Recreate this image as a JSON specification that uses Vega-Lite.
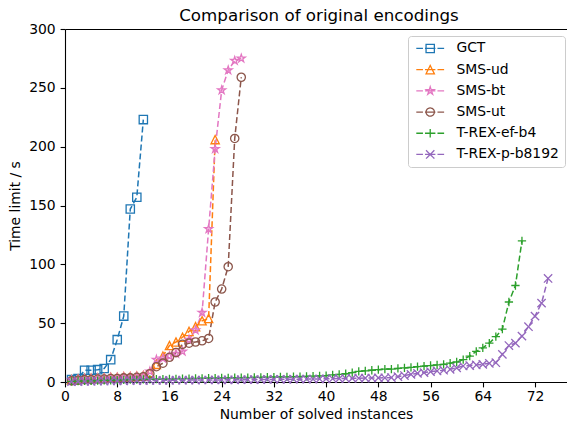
{
"$schema": "https://vega.github.io/schema/vega-lite/v6.json",
"width": 502, "height": 353,
"autosize": {"type": "none"},
"padding": {"left": 65, "top": 29, "right": 0, "bottom": 42},
"title": {"text": "Comparison of original encodings", "fontSize": 16.7, "fontWeight": "normal", "font": "DejaVu Sans", "color": "#000000", "anchor": "middle", "offset": -3, "dx": 3},
"config": {"font": "DejaVu Sans", "view": {"stroke": null}, "background": "white"},
"data": {"values": [
{"s":"GCT","x":1,"y":2},{"s":"GCT","x":2,"y":3},{"s":"GCT","x":3,"y":10},{"s":"GCT","x":4,"y":10},{"s":"GCT","x":5,"y":10.5},{"s":"GCT","x":6,"y":11.5},{"s":"GCT","x":7,"y":19},{"s":"GCT","x":8,"y":36},{"s":"GCT","x":9,"y":56},{"s":"GCT","x":10,"y":147},{"s":"GCT","x":11,"y":157},{"s":"GCT","x":12,"y":223},
{"s":"SMS-ud","x":1,"y":2},{"s":"SMS-ud","x":2,"y":2.5},{"s":"SMS-ud","x":3,"y":3},{"s":"SMS-ud","x":4,"y":3},{"s":"SMS-ud","x":5,"y":3.5},{"s":"SMS-ud","x":6,"y":3.5},{"s":"SMS-ud","x":7,"y":4},{"s":"SMS-ud","x":8,"y":4},{"s":"SMS-ud","x":9,"y":4.5},{"s":"SMS-ud","x":10,"y":4.5},{"s":"SMS-ud","x":11,"y":5},{"s":"SMS-ud","x":12,"y":5.5},{"s":"SMS-ud","x":13,"y":8},{"s":"SMS-ud","x":14,"y":15},{"s":"SMS-ud","x":15,"y":22},{"s":"SMS-ud","x":16,"y":31},{"s":"SMS-ud","x":17,"y":34},{"s":"SMS-ud","x":18,"y":38},{"s":"SMS-ud","x":19,"y":43},{"s":"SMS-ud","x":20,"y":47},{"s":"SMS-ud","x":21,"y":52},{"s":"SMS-ud","x":22,"y":54},{"s":"SMS-ud","x":23,"y":206},
{"s":"SMS-bt","x":1,"y":1.5},{"s":"SMS-bt","x":2,"y":2},{"s":"SMS-bt","x":3,"y":2.5},{"s":"SMS-bt","x":4,"y":2.5},{"s":"SMS-bt","x":5,"y":3},{"s":"SMS-bt","x":6,"y":3},{"s":"SMS-bt","x":7,"y":3.5},{"s":"SMS-bt","x":8,"y":3.5},{"s":"SMS-bt","x":9,"y":4},{"s":"SMS-bt","x":10,"y":4},{"s":"SMS-bt","x":11,"y":4.5},{"s":"SMS-bt","x":12,"y":5},{"s":"SMS-bt","x":13,"y":9},{"s":"SMS-bt","x":14,"y":19},{"s":"SMS-bt","x":15,"y":20},{"s":"SMS-bt","x":16,"y":22},{"s":"SMS-bt","x":17,"y":24},{"s":"SMS-bt","x":18,"y":26},{"s":"SMS-bt","x":19,"y":36},{"s":"SMS-bt","x":20,"y":44},{"s":"SMS-bt","x":21,"y":59},{"s":"SMS-bt","x":22,"y":130},{"s":"SMS-bt","x":23,"y":198},{"s":"SMS-bt","x":24,"y":248},{"s":"SMS-bt","x":25,"y":265},{"s":"SMS-bt","x":26,"y":273},{"s":"SMS-bt","x":27,"y":275},
{"s":"SMS-ut","x":1,"y":1},{"s":"SMS-ut","x":2,"y":1.5},{"s":"SMS-ut","x":3,"y":2},{"s":"SMS-ut","x":4,"y":2},{"s":"SMS-ut","x":5,"y":2.5},{"s":"SMS-ut","x":6,"y":2.5},{"s":"SMS-ut","x":7,"y":3},{"s":"SMS-ut","x":8,"y":3},{"s":"SMS-ut","x":9,"y":3.5},{"s":"SMS-ut","x":10,"y":3.5},{"s":"SMS-ut","x":11,"y":4},{"s":"SMS-ut","x":12,"y":4.5},{"s":"SMS-ut","x":13,"y":7},{"s":"SMS-ut","x":14,"y":13},{"s":"SMS-ut","x":15,"y":16},{"s":"SMS-ut","x":16,"y":21},{"s":"SMS-ut","x":17,"y":25},{"s":"SMS-ut","x":18,"y":32},{"s":"SMS-ut","x":19,"y":33},{"s":"SMS-ut","x":20,"y":34},{"s":"SMS-ut","x":21,"y":35},{"s":"SMS-ut","x":22,"y":37},{"s":"SMS-ut","x":23,"y":68},{"s":"SMS-ut","x":24,"y":79},{"s":"SMS-ut","x":25,"y":98},{"s":"SMS-ut","x":26,"y":207},{"s":"SMS-ut","x":27,"y":259},
{"s":"T-REX-ef-b4","x":1,"y":0.5},{"s":"T-REX-ef-b4","x":2,"y":0.7},{"s":"T-REX-ef-b4","x":3,"y":0.9},{"s":"T-REX-ef-b4","x":4,"y":1},{"s":"T-REX-ef-b4","x":5,"y":1.2},{"s":"T-REX-ef-b4","x":6,"y":1.3},{"s":"T-REX-ef-b4","x":7,"y":1.5},{"s":"T-REX-ef-b4","x":8,"y":1.6},{"s":"T-REX-ef-b4","x":9,"y":1.8},{"s":"T-REX-ef-b4","x":10,"y":2},
{"s":"T-REX-ef-b4","x":11,"y":2.1},{"s":"T-REX-ef-b4","x":12,"y":2.2},{"s":"T-REX-ef-b4","x":13,"y":2.3},{"s":"T-REX-ef-b4","x":14,"y":2.4},{"s":"T-REX-ef-b4","x":15,"y":2.5},{"s":"T-REX-ef-b4","x":16,"y":2.6},{"s":"T-REX-ef-b4","x":17,"y":2.7},{"s":"T-REX-ef-b4","x":18,"y":2.8},{"s":"T-REX-ef-b4","x":19,"y":2.9},{"s":"T-REX-ef-b4","x":20,"y":3},
{"s":"T-REX-ef-b4","x":21,"y":3.1},{"s":"T-REX-ef-b4","x":22,"y":3.2},{"s":"T-REX-ef-b4","x":23,"y":3.3},{"s":"T-REX-ef-b4","x":24,"y":3.4},{"s":"T-REX-ef-b4","x":25,"y":3.5},{"s":"T-REX-ef-b4","x":26,"y":3.6},{"s":"T-REX-ef-b4","x":27,"y":3.7},{"s":"T-REX-ef-b4","x":28,"y":3.8},{"s":"T-REX-ef-b4","x":29,"y":3.9},{"s":"T-REX-ef-b4","x":30,"y":4},
{"s":"T-REX-ef-b4","x":31,"y":4.1},{"s":"T-REX-ef-b4","x":32,"y":4.2},{"s":"T-REX-ef-b4","x":33,"y":4.3},{"s":"T-REX-ef-b4","x":34,"y":4.4},{"s":"T-REX-ef-b4","x":35,"y":4.5},{"s":"T-REX-ef-b4","x":36,"y":4.6},{"s":"T-REX-ef-b4","x":37,"y":4.8},{"s":"T-REX-ef-b4","x":38,"y":5},{"s":"T-REX-ef-b4","x":39,"y":5.2},{"s":"T-REX-ef-b4","x":40,"y":5.5},
{"s":"T-REX-ef-b4","x":41,"y":6},{"s":"T-REX-ef-b4","x":42,"y":6.5},{"s":"T-REX-ef-b4","x":43,"y":7},{"s":"T-REX-ef-b4","x":44,"y":8},{"s":"T-REX-ef-b4","x":45,"y":9},{"s":"T-REX-ef-b4","x":46,"y":9.5},{"s":"T-REX-ef-b4","x":47,"y":10},{"s":"T-REX-ef-b4","x":48,"y":10.5},{"s":"T-REX-ef-b4","x":49,"y":11},{"s":"T-REX-ef-b4","x":50,"y":11},
{"s":"T-REX-ef-b4","x":51,"y":11.5},{"s":"T-REX-ef-b4","x":52,"y":12},{"s":"T-REX-ef-b4","x":53,"y":12.5},{"s":"T-REX-ef-b4","x":54,"y":13},{"s":"T-REX-ef-b4","x":55,"y":13.5},{"s":"T-REX-ef-b4","x":56,"y":14},{"s":"T-REX-ef-b4","x":57,"y":14.5},{"s":"T-REX-ef-b4","x":58,"y":15},{"s":"T-REX-ef-b4","x":59,"y":16},{"s":"T-REX-ef-b4","x":60,"y":17},
{"s":"T-REX-ef-b4","x":61,"y":19},{"s":"T-REX-ef-b4","x":62,"y":22},{"s":"T-REX-ef-b4","x":63,"y":26},{"s":"T-REX-ef-b4","x":64,"y":29},{"s":"T-REX-ef-b4","x":65,"y":33},{"s":"T-REX-ef-b4","x":66,"y":38.5},{"s":"T-REX-ef-b4","x":67,"y":45},{"s":"T-REX-ef-b4","x":68,"y":68},{"s":"T-REX-ef-b4","x":69,"y":82},{"s":"T-REX-ef-b4","x":70,"y":120},
{"s":"T-REX-p-b8192","x":1,"y":0.3},{"s":"T-REX-p-b8192","x":2,"y":0.4},{"s":"T-REX-p-b8192","x":3,"y":0.5},{"s":"T-REX-p-b8192","x":4,"y":0.6},{"s":"T-REX-p-b8192","x":5,"y":0.7},{"s":"T-REX-p-b8192","x":6,"y":0.8},{"s":"T-REX-p-b8192","x":7,"y":0.9},{"s":"T-REX-p-b8192","x":8,"y":1},{"s":"T-REX-p-b8192","x":9,"y":1},{"s":"T-REX-p-b8192","x":10,"y":1.1},
{"s":"T-REX-p-b8192","x":11,"y":1.2},{"s":"T-REX-p-b8192","x":12,"y":1.2},{"s":"T-REX-p-b8192","x":13,"y":1.3},{"s":"T-REX-p-b8192","x":14,"y":1.3},{"s":"T-REX-p-b8192","x":15,"y":1.4},{"s":"T-REX-p-b8192","x":16,"y":1.4},{"s":"T-REX-p-b8192","x":17,"y":1.5},{"s":"T-REX-p-b8192","x":18,"y":1.5},{"s":"T-REX-p-b8192","x":19,"y":1.6},{"s":"T-REX-p-b8192","x":20,"y":1.6},
{"s":"T-REX-p-b8192","x":21,"y":1.7},{"s":"T-REX-p-b8192","x":22,"y":1.7},{"s":"T-REX-p-b8192","x":23,"y":1.8},{"s":"T-REX-p-b8192","x":24,"y":1.8},{"s":"T-REX-p-b8192","x":25,"y":1.9},{"s":"T-REX-p-b8192","x":26,"y":1.9},{"s":"T-REX-p-b8192","x":27,"y":2},{"s":"T-REX-p-b8192","x":28,"y":2},{"s":"T-REX-p-b8192","x":29,"y":2.1},{"s":"T-REX-p-b8192","x":30,"y":2.1},
{"s":"T-REX-p-b8192","x":31,"y":2.2},{"s":"T-REX-p-b8192","x":32,"y":2.2},{"s":"T-REX-p-b8192","x":33,"y":2.3},{"s":"T-REX-p-b8192","x":34,"y":2.3},{"s":"T-REX-p-b8192","x":35,"y":2.4},{"s":"T-REX-p-b8192","x":36,"y":2.4},{"s":"T-REX-p-b8192","x":37,"y":2.5},{"s":"T-REX-p-b8192","x":38,"y":2.5},{"s":"T-REX-p-b8192","x":39,"y":2.6},{"s":"T-REX-p-b8192","x":40,"y":2.7},
{"s":"T-REX-p-b8192","x":41,"y":2.8},{"s":"T-REX-p-b8192","x":42,"y":2.9},{"s":"T-REX-p-b8192","x":43,"y":3},{"s":"T-REX-p-b8192","x":44,"y":3.1},{"s":"T-REX-p-b8192","x":45,"y":3.2},{"s":"T-REX-p-b8192","x":46,"y":3.3},{"s":"T-REX-p-b8192","x":47,"y":3.4},{"s":"T-REX-p-b8192","x":48,"y":3.5},{"s":"T-REX-p-b8192","x":49,"y":3.6},{"s":"T-REX-p-b8192","x":50,"y":3.8},
{"s":"T-REX-p-b8192","x":51,"y":4.5},{"s":"T-REX-p-b8192","x":52,"y":5.5},{"s":"T-REX-p-b8192","x":53,"y":6.5},{"s":"T-REX-p-b8192","x":54,"y":7.3},{"s":"T-REX-p-b8192","x":55,"y":8},{"s":"T-REX-p-b8192","x":56,"y":8.8},{"s":"T-REX-p-b8192","x":57,"y":9.4},{"s":"T-REX-p-b8192","x":58,"y":10},{"s":"T-REX-p-b8192","x":59,"y":10.8},{"s":"T-REX-p-b8192","x":60,"y":12},
{"s":"T-REX-p-b8192","x":61,"y":13.6},{"s":"T-REX-p-b8192","x":62,"y":14},{"s":"T-REX-p-b8192","x":63,"y":14.5},{"s":"T-REX-p-b8192","x":64,"y":15},{"s":"T-REX-p-b8192","x":65,"y":15.9},{"s":"T-REX-p-b8192","x":66,"y":16.4},{"s":"T-REX-p-b8192","x":67,"y":23.5},{"s":"T-REX-p-b8192","x":68,"y":31},{"s":"T-REX-p-b8192","x":69,"y":33},{"s":"T-REX-p-b8192","x":70,"y":39},
{"s":"T-REX-p-b8192","x":71,"y":47},{"s":"T-REX-p-b8192","x":72,"y":56},{"s":"T-REX-p-b8192","x":73,"y":67},{"s":"T-REX-p-b8192","x":74,"y":88}
]},
"encoding": {
  "y": {"field": "y", "type": "quantitative", "scale": {"domain": [0, 300], "nice": false},
        "axis": {"values": [0,50,100,150,200,250,300], "title": "Time limit / s", "grid": false,
                 "labelFontSize": 13.9, "labelColor": "#000000", "labelFont": "DejaVu Sans", "labelPadding": 4.9, "labelFlush": false, "labelOverlap": false,
                 "tickSize": 4.9, "tickWidth": 1.1, "tickColor": "#000000", "domainColor": "#000000", "domainWidth": 1.1,
                 "titleFontSize": 13.9, "titleFontWeight": "normal", "titleColor": "#000000", "titleFont": "DejaVu Sans", "titlePadding": 6}},
  "color": {"field": "s", "type": "nominal",
    "scale": {"domain": ["GCT","SMS-ud","SMS-bt","SMS-ut","T-REX-ef-b4","T-REX-p-b8192"], "range": ["#1f77b4","#ff7f0e","#e377c2","#8c564b","#2ca02c","#9467bd"]},
    "legend": {"title": null, "orient": "none", "legendX": 343, "legendY": 7, "symbolSize": 69, "labelFontSize": 13.9, "labelColor": "#000000", "labelFont": "DejaVu Sans",
      "labelOffset": 29, "labelLimit": 300, "rowPadding": 6.2, "padding": 5.5, "strokeColor": "#cccccc", "fillColor": "rgba(255,255,255,0.8)", "cornerRadius": 3,
      "symbolStrokeWidth": 1.3, "symbolFillColor": "transparent",
      "encode": {"symbols": {"update": {
        "shape": {"signal": "datum.value==='GCT'?'M-1,0H0.6M1.1,0H3.6M4.1,0H5.7M1.35,-1H3.35V1H1.35Z':datum.value==='SMS-ud'?'M-1,0H0.6M1.1,0H3.6M4.1,0H5.7M2.35,-1L3.35,1H1.35Z':datum.value==='SMS-bt'?'M-1,0H0.6M1.1,0H3.6M4.1,0H5.7M2.35,-1L2.573,-0.307L3.301,-0.309L2.711,0.117L2.938,0.809L2.35,0.38L1.762,0.809L1.989,0.117L1.399,-0.309L2.127,-0.307Z':datum.value==='SMS-ut'?'M-1,0H0.6M1.1,0H3.6M4.1,0H5.7M3.35,0A1,1,0,1,1,1.35,0A1,1,0,1,1,3.35,0Z':datum.value==='T-REX-ef-b4'?'M-1,0H0.6M1.1,0H3.6M4.1,0H5.7M1.35,0H3.35M2.35,-1V1':'M-1,0H0.6M1.1,0H3.6M4.1,0H5.7M1.35,-1L3.35,1M1.35,1L3.35,-1'"},
        "strokeDash": {"value": [1, 0]},
        "fill": {"value": "transparent"}}}}}}
},
"layer": [
{"mark": {"type": "line", "strokeDash": [6, 3], "strokeWidth": 1.5},
 "encoding": {
  "x": {"field": "x", "type": "quantitative", "scale": {"domain": [0, 76.9], "nice": false, "zero": false},
        "axis": {"values": [0,8,16,24,32,40,48,56,64,72], "title": "Number of solved instances", "grid": false,
                 "labelFontSize": 13.9, "labelColor": "#000000", "labelFont": "DejaVu Sans", "labelPadding": 3, "labelFlush": false, "labelOverlap": false,
                 "tickSize": 4.9, "tickWidth": 1.1, "tickColor": "#000000", "domainColor": "#000000", "domainWidth": 1.1,
                 "titleFontSize": 13.9, "titleFontWeight": "normal", "titleColor": "#000000", "titleFont": "DejaVu Sans", "titlePadding": 4}},
  "order": {"field": "x", "type": "quantitative"}
 }},
{"transform": [{"filter": {"field": "s", "equal": "GCT"}}],
 "mark": {"type": "point", "filled": false, "strokeWidth": 1.3, "size": 69, "opacity": 1, "shape": "M-1,-1H1V1H-1Z"},
 "encoding": {"x": {"field": "x", "type": "quantitative", "axis": {"orient": "top", "labels": false, "ticks": false, "title": null, "grid": false, "domainColor": "#000000", "domainWidth": 1.1}}}},
{"transform": [{"filter": {"field": "s", "equal": "SMS-ud"}}],
 "mark": {"type": "point", "filled": false, "strokeWidth": 1.3, "size": 69, "opacity": 1, "shape": "M0,-1L1,1H-1Z"},
 "encoding": {"x": {"field": "x", "type": "quantitative", "axis": null}}},
{"transform": [{"filter": {"field": "s", "equal": "SMS-bt"}}],
 "mark": {"type": "point", "filled": false, "strokeWidth": 1.3, "size": 69, "opacity": 1, "shape": "M0,-1L0.223,-0.307L0.951,-0.309L0.361,0.117L0.588,0.809L0,0.38L-0.588,0.809L-0.361,0.117L-0.951,-0.309L-0.223,-0.307Z"},
 "encoding": {"x": {"field": "x", "type": "quantitative", "axis": null}}},
{"transform": [{"filter": {"field": "s", "equal": "SMS-ut"}}],
 "mark": {"type": "point", "filled": false, "strokeWidth": 1.3, "size": 69, "opacity": 1, "shape": "circle"},
 "encoding": {"x": {"field": "x", "type": "quantitative", "axis": null}}},
{"transform": [{"filter": {"field": "s", "equal": "T-REX-ef-b4"}}],
 "mark": {"type": "point", "filled": false, "strokeWidth": 1.3, "size": 69, "opacity": 1, "shape": "M-1,0H1M0,-1V1"},
 "encoding": {"x": {"field": "x", "type": "quantitative", "axis": null}}},
{"transform": [{"filter": {"field": "s", "equal": "T-REX-p-b8192"}}],
 "mark": {"type": "point", "filled": false, "strokeWidth": 1.3, "size": 69, "opacity": 1, "shape": "M-1,-1L1,1M-1,1L1,-1"},
 "encoding": {"x": {"field": "x", "type": "quantitative", "axis": null}}}
],
"resolve": {"axis": {"x": "independent"}}
}
